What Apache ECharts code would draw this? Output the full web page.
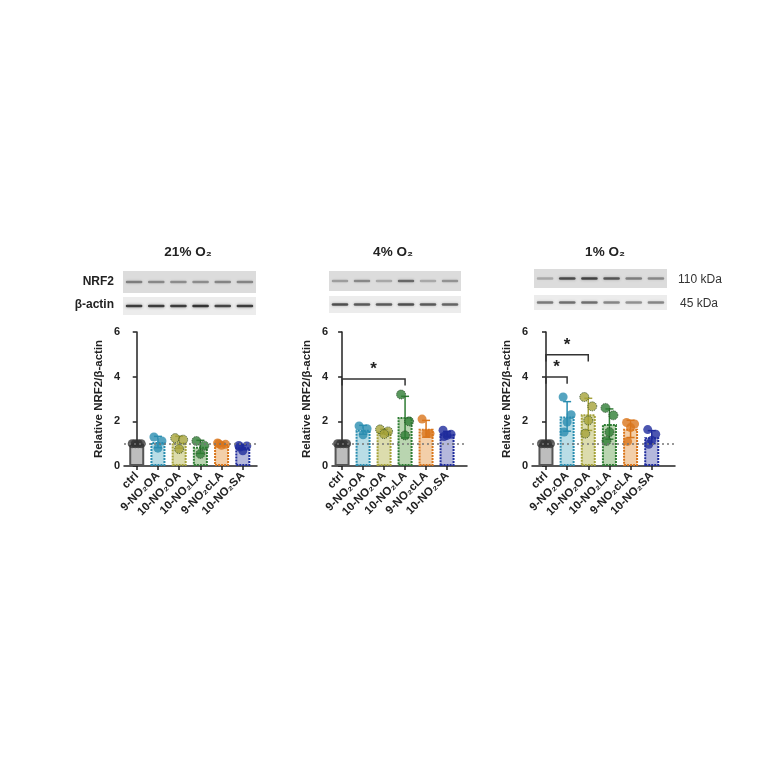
<!DOCTYPE html>
<html>
<head>
<meta charset="utf-8">
<script src="https://cdn.jsdelivr.net/npm/echarts@6/dist/echarts.min.js"></script>
<style>
  html, body { margin: 0; padding: 0; background: #fff; }
  #main { width: 764px; height: 764px; }
</style>
</head>
<body>
<div id="main"></div>
<script>
// groups (x categories)
const groups = ['ctrl', '9-NO₂OA', '10-NO₂OA', '10-NO₂LA', '9-NO₂cLA', '10-NO₂SA'];
const panelTitles = ['21% O₂', '4% O₂', '1% O₂'];

// individual replicate values
const pts21 = [[1, 1, 1, 1], [1.3, 1.12, 0.8], [1.25, 1.18, 0.76], [1.12, 0.91, 0.54], [1.03, 0.97, 0.93, 1.0], [0.92, 0.9, 0.68, 0.85]];
const pts4 = [[1, 1, 1, 1], [1.79, 1.67, 1.4], [1.64, 1.55, 1.43], [3.2, 2.0, 1.37], [2.1, 1.45, 1.45], [1.6, 1.42, 1.37, 1.32]];
const pts1 = [[1, 1, 1, 1], [3.09, 2.3, 1.97, 1.52], [3.09, 2.67, 2.04, 1.45], [2.6, 2.27, 1.52, 1.12], [1.95, 1.88, 1.72, 1.1], [1.63, 1.42, 1.15, 0.97]];

// significance brackets: [from group, to group, height]
const sig21 = [];
const sig4 = [[0, 3, 3.9]];
const sig1 = [[0, 1, 3.98], [0, 2, 4.98]];

// blot band darkness per lane (0..1)
const nrf2Band21 = [0.45, 0.4, 0.38, 0.38, 0.42, 0.42];
const actinBand21 = [0.8, 0.8, 0.8, 0.85, 0.75, 0.8];
const nrf2Band4 = [0.3, 0.4, 0.25, 0.55, 0.25, 0.35];
const actinBand4 = [0.7, 0.65, 0.65, 0.7, 0.65, 0.6];
const nrf2Band1 = [0.25, 0.7, 0.75, 0.65, 0.45, 0.4];
const actinBand1 = [0.5, 0.55, 0.55, 0.45, 0.4, 0.45];

const fillColors = ['#bdbdbd', '#b9dde6', '#dcdcad', '#b9d5b0', '#f3cfa9', '#b5b8dc'];
const borderColors = ['#555555', '#2a8db0', '#a5a23a', '#2f7d34', '#d9761c', '#1f2c9c'];
const jitter = [-4, 4, 0, -3, 3];

const FONT = '"Liberation Sans", "Noto Sans", "DejaVu Sans", sans-serif';

function mean(a) { return a.reduce((s, v) => s + v, 0) / a.length; }
function sd(a) {
  let m = mean(a);
  return Math.sqrt(a.reduce((s, v) => s + (v - m) * (v - m), 0) / (a.length - 1));
}

const layouts = [
  {left: 124, width: 133, xmin: -0.6, xmax: 5.67},
  {left: 332, width: 135, xmin: -0.48, xmax: 5.95},
  {left: 532, width: 143, xmin: -0.66, xmax: 6.1}
];
const blotLayouts = [
  {left: 123, width: 133, nTop: 271, nH: 22, aTop: 297, aH: 18},
  {left: 329, width: 132, nTop: 271, nH: 20, aTop: 296, aH: 17},
  {left: 534, width: 133, nTop: 269, nH: 19, aTop: 295, aH: 15}
];
const allPts = [pts21, pts4, pts1];
const allSig = [sig21, sig4, sig1];
const nrfBands = [nrf2Band21, nrf2Band4, nrf2Band1];
const actinBands = [actinBand21, actinBand4, actinBand1];

let grid = [], xAxis = [], yAxis = [], series = [];

allPts.forEach((pts, p) => {
  let L = layouts[p];
  let gi = grid.length;
  grid.push({left: L.left, top: 332, width: L.width, height: 134});
  xAxis.push({
    type: 'value', gridIndex: gi, min: L.xmin, max: L.xmax,
    splitLine: {show: false},
    axisLine: {lineStyle: {color: '#222', width: 1.5}},
    axisTick: {customValues: [0, 1, 2, 3, 4, 5], length: 4, lineStyle: {color: '#222', width: 1.5}},
    axisLabel: {
      customValues: [0, 1, 2, 3, 4, 5], rotate: 45, margin: 8,
      fontFamily: FONT, fontWeight: 'bold', fontSize: 11.5, color: '#222',
      formatter: v => groups[Math.round(v)]
    }
  });
  yAxis.push({
    type: 'value', gridIndex: gi, min: 0, max: 6, interval: 2,
    name: 'Relative NRF2/β-actin', nameLocation: 'middle', nameGap: 19,
    nameTextStyle: {fontFamily: FONT, fontWeight: 'bold', fontSize: 11.5, color: '#222'},
    splitLine: {show: false},
    axisLine: {show: true, lineStyle: {color: '#222', width: 1.5}},
    axisTick: {show: true, length: 4, lineStyle: {color: '#222', width: 1.5}},
    axisLabel: {fontFamily: FONT, fontWeight: 'bold', fontSize: 11, color: '#222', margin: 4}
  });

  let means = pts.map(mean);
  let sds = pts.map(sd);

  series.push({
    type: 'bar', xAxisIndex: gi, yAxisIndex: gi, barWidth: 15,
    data: means.map((m, i) => ({
      value: [i, m],
      itemStyle: {color: fillColors[i], borderColor: borderColors[i], borderWidth: 2, borderType: i === 0 ? 'solid' : [2, 1]}
    })),
    markLine: {
      silent: true, symbol: 'none', label: {show: false},
      lineStyle: {type: [2, 3], color: '#777', width: 1.5},
      data: [{yAxis: 1}]
    },
    z: 2
  });

  series.push({
    type: 'custom', xAxisIndex: gi, yAxisIndex: gi, z: 3,
    data: means.map((m, i) => [i, m, sds[i]]),
    renderItem: function (params, api) {
      let i = api.value(0), m = api.value(1), s = api.value(2);
      let top = api.coord([i, m + s]), bot = api.coord([i, m - s]);
      let c = borderColors[i];
      let st = {stroke: c, lineWidth: 1.5};
      return {
        type: 'group', children: [
          {type: 'line', shape: {x1: top[0], y1: top[1], x2: bot[0], y2: bot[1]}, style: st},
          {type: 'line', shape: {x1: top[0] - 4, y1: top[1], x2: top[0] + 4, y2: top[1]}, style: st},
          {type: 'line', shape: {x1: bot[0] - 4, y1: bot[1], x2: bot[0] + 4, y2: bot[1]}, style: st}
        ]
      };
    }
  });

  let dots = [];
  pts.forEach((arr, i) => arr.forEach((v, k) => {
    dots.push({
      value: [i, v],
      symbolOffset: [i === 0 ? (k - 1.5) * 3 : jitter[k], 0],
      itemStyle: {
        color: i === 0 ? '#333' : borderColors[i],
        borderColor: (i === 2 || i === 3) ? '#1d3b1d' : 'rgba(0,0,0,0)',
        borderWidth: (i === 2 || i === 3) ? 1 : 0,
        borderType: 'dotted'
      }
    });
  }));
  series.push({
    type: 'scatter', xAxisIndex: gi, yAxisIndex: gi, z: 4,
    symbol: 'circle', symbolSize: 9, data: dots
  });

  if (allSig[p].length) {
    series.push({
      type: 'custom', xAxisIndex: gi, yAxisIndex: gi, z: 5,
      data: allSig[p],
      renderItem: function (params, api) {
        let a = api.value(0), b = api.value(1), h = api.value(2);
        let p1 = api.coord([a, h - 0.3]), p2 = api.coord([a, h]);
        let p3 = api.coord([b, h]), p4 = api.coord([b, h - 0.3]);
        let star = api.coord([(a + b) / 2, h + 0.42]);
        return {
          type: 'group', children: [
            {type: 'polyline', shape: {points: [p1, p2, p3, p4]}, style: {stroke: '#333', lineWidth: 1.5, fill: null}},
            {type: 'text', x: star[0], y: star[1], style: {text: '*', fill: '#222', font: 'bold 17px ' + FONT, align: 'center', verticalAlign: 'middle'}}
          ]
        };
      }
    });
  }

  // western blot strips
  let B = blotLayouts[p];
  [[B.nTop, B.nH, nrfBands[p], '#dcdcdc', 2.5], [B.aTop, B.aH, actinBands[p], '#ececec', 2.5]].forEach(strip => {
    let bi = grid.length;
    grid.push({left: B.left, top: strip[0], width: B.width, height: strip[1], show: true, backgroundColor: strip[3], borderWidth: 0});
    xAxis.push({type: 'value', gridIndex: bi, min: -0.5, max: 5.5, show: false});
    yAxis.push({type: 'value', gridIndex: bi, min: 0, max: 1, show: false});
    series.push({
      type: 'custom', xAxisIndex: bi, yAxisIndex: bi, silent: true,
      data: strip[2].map((d, i) => [i, d]),
      renderItem: function (params, api) {
        let c = api.coord([api.value(0), 0.5]);
        let w = api.size([0.75, 0])[0];
        let d = api.value(1);
        return {
          type: 'rect',
          shape: {x: c[0] - w / 2, y: c[1] - strip[4] / 2, width: w, height: strip[4], r: 1.2},
          style: {fill: 'rgba(30,30,30,' + d + ')', shadowBlur: 3, shadowColor: 'rgba(30,30,30,' + (d * 0.7) + ')'}
        };
      }
    });
  });
});

const titleX = [188, 393, 605];
let graphic = panelTitles.map((t, i) => ({
  type: 'text', x: titleX[i], y: 252,
  style: {text: t, font: 'bold 13.5px ' + FONT, fill: '#222', align: 'center', verticalAlign: 'middle'}
}));
graphic.push(
  {type: 'text', x: 114, y: 282, style: {text: 'NRF2', font: 'bold 12px ' + FONT, fill: '#222', align: 'right', verticalAlign: 'middle'}},
  {type: 'text', x: 114, y: 305, style: {text: 'β-actin', font: 'bold 12px ' + FONT, fill: '#222', align: 'right', verticalAlign: 'middle'}},
  {type: 'text', x: 678, y: 280, style: {text: '110 kDa', font: '12px ' + FONT, fill: '#333', align: 'left', verticalAlign: 'middle'}},
  {type: 'text', x: 680, y: 304, style: {text: '45 kDa', font: '12px ' + FONT, fill: '#333', align: 'left', verticalAlign: 'middle'}}
);

let chart = echarts.init(document.getElementById('main'));
chart.setOption({
  backgroundColor: '#fff',
  animation: false,
  grid: grid,
  xAxis: xAxis,
  yAxis: yAxis,
  series: series,
  graphic: graphic
});
</script>
</body>
</html>
